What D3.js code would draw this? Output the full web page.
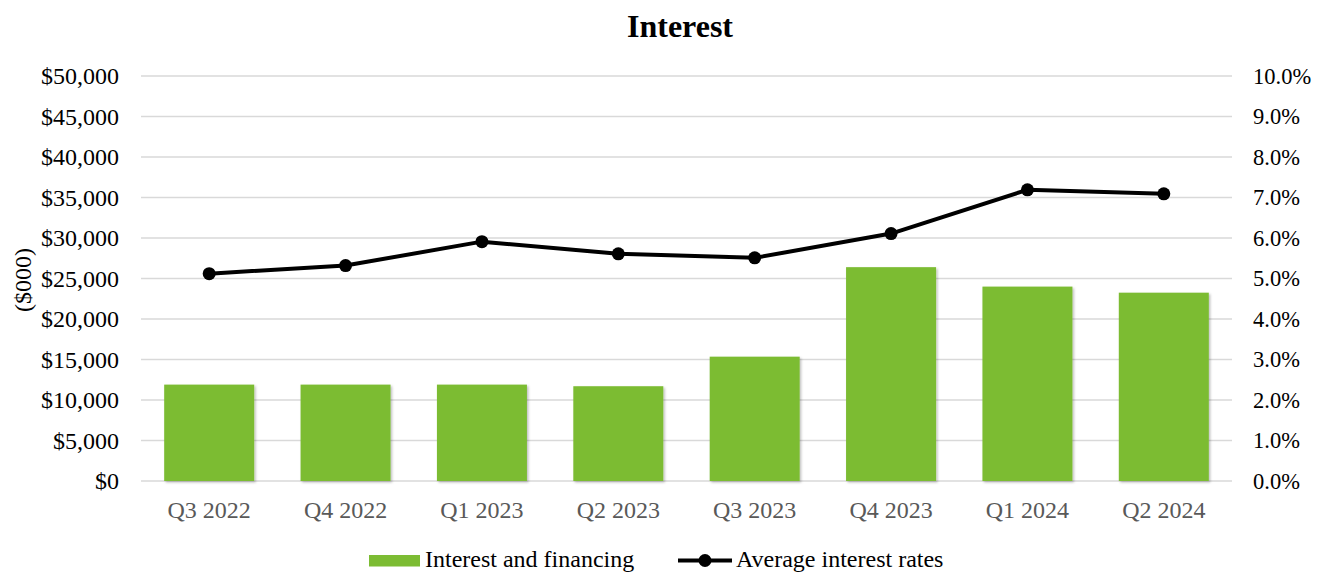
<!DOCTYPE html>
<html>
<head>
<meta charset="utf-8">
<script src="https://cdn.jsdelivr.net/npm/d3@7"></script>
<style>
  body { margin: 0; background: #fff; }
  text { font-family: "Liberation Serif", "Times New Roman", serif; }
</style>
</head>
<body>
<svg id="chart" width="1318" height="573"></svg>
<script>
var quarters = ["Q3 2022", "Q4 2022", "Q1 2023", "Q2 2023", "Q3 2023", "Q4 2023", "Q1 2024", "Q2 2024"];
var interestFinancing = [11900, 11900, 11900, 11700, 15350, 26400, 24000, 23250];
var avgRates = [5.12, 5.32, 5.91, 5.61, 5.51, 6.11, 7.19, 7.09];
var leftTicks = [0, 5000, 10000, 15000, 20000, 25000, 30000, 35000, 40000, 45000, 50000];
var rightTicks = [0, 1, 2, 3, 4, 5, 6, 7, 8, 9, 10];

var svg = d3.select("#chart");
var plotL = 141, plotR = 1232, plotT = 76, plotB = 481;

var x = d3.scaleBand().domain(quarters).range([plotL, plotR]).paddingInner(0.34).paddingOuter(0.17);
var yL = d3.scaleLinear().domain([0, 50000]).range([plotB, plotT]);
var yR = d3.scaleLinear().domain([0, 10]).range([plotB, plotT]);

var defs = svg.append("defs");
var f = defs.append("filter").attr("id", "shadow").attr("x", "-10%").attr("y", "-10%").attr("width", "130%").attr("height", "130%");
f.append("feDropShadow").attr("dx", 1.5).attr("dy", 1.5).attr("stdDeviation", 1.2).attr("flood-color", "#000").attr("flood-opacity", 0.25);

// title
svg.append("text")
    .attr("x", 680).attr("y", 37)
    .attr("text-anchor", "middle")
    .style("font-size", "32px").style("font-weight", "bold")
    .text("Interest");

// gridlines
svg.append("g").selectAll("line").data(leftTicks).join("line")
    .attr("x1", plotL).attr("x2", plotR)
    .attr("y1", function (d) { return yL(d); })
    .attr("y2", function (d) { return yL(d); })
    .attr("stroke", "#d9d9d9").attr("stroke-width", 1.5);

// left axis
var axL = svg.append("g").attr("transform", "translate(" + (plotL - 22) + ",0)")
    .call(d3.axisLeft(yL).tickValues(leftTicks).tickSize(0).tickPadding(0)
        .tickFormat(function (d) { return "$" + d3.format(",")(d); }));
axL.select(".domain").remove();
axL.selectAll("text").style("font-size", "24px").attr("fill", "#000").attr("font-family", "Liberation Serif, serif");

// right axis
var axR = svg.append("g").attr("transform", "translate(" + (plotR + 21) + ",0)")
    .call(d3.axisRight(yR).tickValues(rightTicks).tickSize(0).tickPadding(0)
        .tickFormat(function (d) { return d.toFixed(1) + "%"; }));
axR.select(".domain").remove();
axR.selectAll("text").style("font-size", "22.5px").attr("fill", "#000").attr("font-family", "Liberation Serif, serif");

// y title
svg.append("text")
    .attr("transform", "translate(31,280) rotate(-90)")
    .attr("text-anchor", "middle")
    .style("font-size", "24px")
    .text("($000)");

// bars
svg.append("g").selectAll("rect").data(quarters).join("rect")
    .attr("x", function (d) { return x(d); })
    .attr("width", x.bandwidth())
    .attr("y", function (d, i) { return yL(interestFinancing[i]); })
    .attr("height", function (d, i) { return plotB - yL(interestFinancing[i]); })
    .attr("fill", "#7cbc33")
    .attr("filter", "url(#shadow)");

// x labels
var axB = svg.append("g").attr("transform", "translate(0," + plotB + ")")
    .call(d3.axisBottom(x).tickSize(0).tickPadding(20));
axB.select(".domain").remove();
axB.selectAll("text").style("font-size", "24px").attr("fill", "#595959").attr("font-family", "Liberation Serif, serif");

// line
var line = d3.line()
    .x(function (d, i) { return x(quarters[i]) + x.bandwidth() / 2; })
    .y(function (d) { return yR(d); });
svg.append("path").datum(avgRates)
    .attr("d", line)
    .attr("fill", "none").attr("stroke", "#000").attr("stroke-width", 4)
    .attr("stroke-linejoin", "round");
svg.append("g").selectAll("circle").data(avgRates).join("circle")
    .attr("cx", function (d, i) { return x(quarters[i]) + x.bandwidth() / 2; })
    .attr("cy", function (d) { return yR(d); })
    .attr("r", 6.5).attr("fill", "#000");

// legend
var lg = svg.append("g");
lg.append("rect").attr("x", 369).attr("y", 555).attr("width", 51).attr("height", 11.5).attr("fill", "#7cbc33");
lg.append("text").attr("x", 425).attr("y", 567).style("font-size", "24px").text("Interest and financing");
lg.append("line").attr("x1", 678).attr("x2", 732).attr("y1", 560.5).attr("y2", 560.5).attr("stroke", "#000").attr("stroke-width", 4);
lg.append("circle").attr("cx", 705).attr("cy", 560.5).attr("r", 6.5).attr("fill", "#000");
lg.append("text").attr("x", 736).attr("y", 567).style("font-size", "24px").text("Average interest rates");
</script>
</body>
</html>
